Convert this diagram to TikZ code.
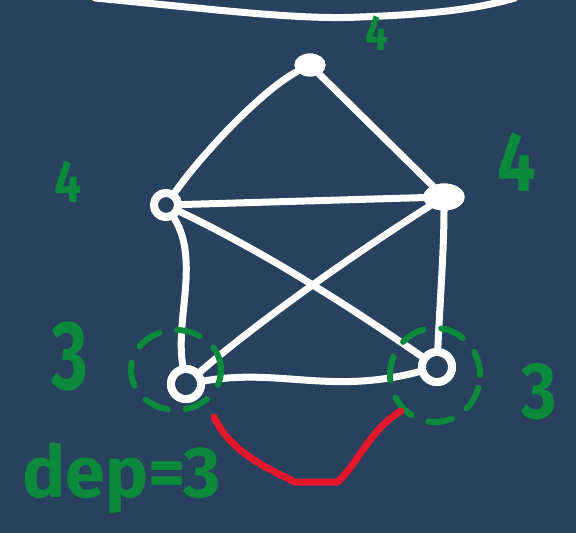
\documentclass[tikz,border=0pt]{standalone}
\usepackage{fontspec}
\setmainfont{Fira Sans}
\usetikzlibrary{shapes.geometric}
\begin{document}
\begin{tikzpicture}[x=1pt,y=-1pt,
  edge/.style={draw=white,line width=7pt,line cap=round,line join=round},
  vfill/.style={ellipse,fill=white,draw=white,line width=3pt,inner sep=0pt},
  vring/.style={circle,draw=white,line width=8pt,fill=bg,inner sep=0pt},
  lbl/.style={text=grn,inner sep=0pt},
  greenring/.style={draw=grn,line width=6pt,line cap=round,dash pattern=on 24pt off 18pt},
  redline/.style={draw=red1,line width=7pt,line cap=round,line join=round}]
\definecolor{bg}{HTML}{28415E}
\definecolor{grn}{HTML}{0A8A3A}
\definecolor{red1}{HTML}{E5172A}
\fill[bg] (0,0) rectangle (576,533);
\useasboundingbox (0,0) rectangle (576,533);
% top curve
\coordinate (c1) at (95,-2);
\coordinate (c2) at (515,-2);
\draw[edge] (c1) .. controls (220,10) and (300,20) .. (360,17) .. controls (440,14) and (480,8) .. (c2);
% vertices
\node[vfill,minimum width=28pt,minimum height=20pt] (T) at (310,65) {};
\node[vring,minimum size=24pt] (L) at (166,205) {};
\node[vfill,minimum width=38pt,minimum height=24pt] (R) at (444,197) {};
\node[vring,minimum size=30pt] (BL) at (186,384) {};
\node[vring,minimum size=30pt] (BR) at (437,367) {};
% edges
\draw[edge] (T) .. controls (265,88) and (205,150) .. (L);
\draw[edge] (T) -- (R);
\draw[edge] (L) -- (R);
\draw[edge] (L) .. controls (260,250) and (340,300) .. (BR);
\draw[edge] (R) .. controls (360,250) and (260,320) .. (BL);
\draw[edge] (L) .. controls (200,260) and (175,320) .. (BL);
\draw[edge] (R) .. controls (444,250) and (440,300) .. (BR);
\draw[edge] (BL) .. controls (280,368) and (330,395) .. (BR);
\node[vfill,minimum width=28pt,minimum height=20pt] at (T) {};
\node[vring,minimum size=24pt] at (L) {};
\node[vfill,minimum width=38pt,minimum height=24pt] at (R) {};
\node[vring,minimum size=30pt] at (BL) {};
\node[vring,minimum size=30pt] at (BR) {};
% green dashed rings
\draw[greenring] (176,370) circle[x radius=45pt,y radius=40pt];
\draw[greenring] (435,375) circle[x radius=45pt,y radius=47pt];
% labels
\node[lbl,font=\bfseries\fontsize{50}{50}\selectfont,xscale=0.8] (l1) at (377,33) {4};
\node[lbl,font=\bfseries\fontsize{60}{60}\selectfont,xscale=0.8] (l2) at (68,182) {4};
\node[lbl,font=\bfseries\fontsize{85}{85}\selectfont,xscale=0.8] (l3) at (517,162) {4};
\node[lbl,font=\bfseries\fontsize{98}{98}\selectfont,xscale=0.72] (l4) at (70,357) {3};
\node[lbl,font=\bfseries\fontsize{80}{80}\selectfont,xscale=0.85] (l5) at (539,392) {3};
\node[lbl,font=\bfseries\fontsize{72}{72}\selectfont] (l6) at (122,478) {dep=3};
% red curve
\coordinate (r1) at (214,417);
\coordinate (r2) at (401,411);
\draw[redline] (r1) .. controls (230,450) and (260,465) .. (295,482) -- (338,482) .. controls (360,460) and (370,430) .. (r2);
\end{tikzpicture}
\end{document}
